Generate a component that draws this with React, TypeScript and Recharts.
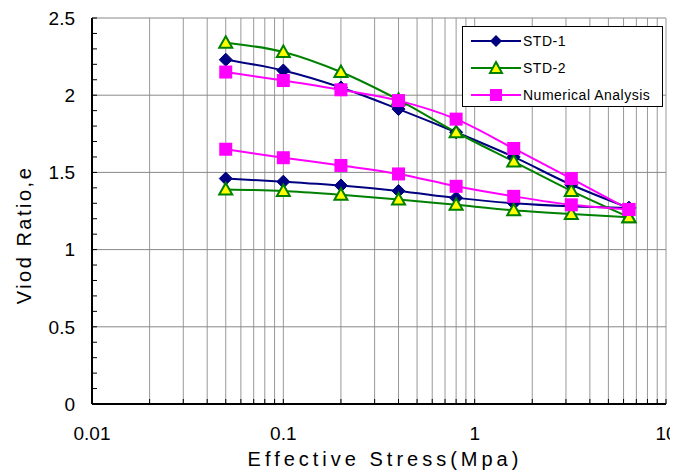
import { CartesianGrid, Legend, Line, LineChart, ReferenceLine, XAxis, YAxis } from "recharts"

const stress = [0.05, 0.1, 0.2, 0.4, 0.8, 1.6, 3.2, 6.4]

const std1Load = [2.23, 2.16, 2.05, 1.91, 1.76, 1.6, 1.42, 1.27]
const std1Unload = [1.46, 1.44, 1.415, 1.38, 1.335, 1.3, 1.28, 1.27]
const std2Load = [2.34, 2.28, 2.15, 1.97, 1.76, 1.57, 1.38, 1.21]
const std2Unload = [1.39, 1.38, 1.355, 1.325, 1.29, 1.255, 1.23, 1.21]
const numLoad = [2.15, 2.095, 2.035, 1.965, 1.845, 1.655, 1.46, 1.26]
const numUnload = [1.65, 1.595, 1.545, 1.49, 1.41, 1.345, 1.29, 1.26]

const xTicks = [
  0.01, 0.02, 0.03, 0.04, 0.05, 0.06, 0.07, 0.08, 0.09,
  0.1, 0.2, 0.3, 0.4, 0.5, 0.6, 0.7, 0.8, 0.9,
  1, 2, 3, 4, 5, 6, 7, 8, 9, 10,
]
const xLabels: Record<string, string> = { "0.01": "0.01", "0.1": "0.1", "1": "1", "10": "10" }
const yTicks = [
  0, 0.1, 0.2, 0.3, 0.4, 0.5, 0.6, 0.7, 0.8, 0.9, 1, 1.1, 1.2, 1.3, 1.4, 1.5,
  1.6, 1.7, 1.8, 1.9, 2, 2.1, 2.2, 2.3, 2.4, 2.5,
]
const yLabels: Record<string, string> = { "0": "0", "0.5": "0.5", "1": "1", "1.5": "1.5", "2": "2", "2.5": "2.5" }
const yGrid = [0.5, 1, 1.5, 2, 2.5]

const toPoints = (ys: number[]) => stress.map((x, i) => ({ x, y: ys[i] }))

const NAVY = "#000080"
const GREEN = "#008000"
const MAGENTA = "#FF00FF"
const YELLOW = "#FFFF00"
const FONT = "'Liberation Sans', Arial, sans-serif"

const Diamond = (p: any) => {
  const { cx, cy } = p
  if (cx == null || cy == null) return null
  const r = 6.5
  return (
    <polygon
      key={p.key}
      points={`${cx},${cy - r} ${cx + r},${cy} ${cx},${cy + r} ${cx - r},${cy}`}
      fill={NAVY}
      stroke={NAVY}
    />
  )
}

const Triangle = (p: any) => {
  const { cx, cy } = p
  if (cx == null || cy == null) return null
  return (
    <polygon
      key={p.key}
      points={`${cx},${cy - 6.5} ${cx + 6.5},${cy + 5} ${cx - 6.5},${cy + 5}`}
      fill={YELLOW}
      stroke={GREEN}
      strokeWidth={2}
    />
  )
}

const Square = (p: any) => {
  const { cx, cy } = p
  if (cx == null || cy == null) return null
  return <rect key={p.key} x={cx - 6.5} y={cy - 6.5} width={13} height={13} fill={MAGENTA} />
}

const XTick = (p: any) => {
  const { x, y, payload } = p
  const label = xLabels[String(payload.value)]
  return (
    <g>
      <line x1={x} x2={x} y1={y - 23} y2={y - 28} stroke="#000" />
      {label && (
        <text x={x} y={y} dy="0.71em" textAnchor="middle" fontSize={19} fontFamily={FONT} fill="#000">
          {label}
        </text>
      )}
    </g>
  )
}

const YTick = (p: any) => {
  const { x, y, payload } = p
  const label = yLabels[String(Math.round(payload.value * 10) / 10)]
  return (
    <g>
      <line x1={x + 17} x2={x + 22} y1={y} y2={y} stroke="#000" />
      {label && (
        <text x={x} y={y} dy="0.355em" textAnchor="end" fontSize={19} fontFamily={FONT} fill="#000">
          {label}
        </text>
      )}
    </g>
  )
}

const legendItems = [
  { name: "STD-1", color: NAVY, marker: "diamond" },
  { name: "STD-2", color: GREEN, marker: "triangle" },
  { name: "Numerical Analysis", color: MAGENTA, marker: "square" },
]

const renderLegend = () => (
  <div
    style={{
      width: 199,
      height: 79,
      border: "1px solid #000",
      background: "#fff",
      fontFamily: FONT,
      fontSize: 14,
      boxSizing: "content-box",
    }}
  >
    {legendItems.map((it) => (
      <div key={it.name} style={{ display: "flex", alignItems: "center", height: 26, marginTop: 1 }}>
        <svg width={60} height={20} style={{ marginLeft: 6 }}>
          <line x1={2} x2={52} y1={10} y2={10} stroke={it.color} strokeWidth={2} />
          {it.marker === "diamond" && <polygon points="27,4 33,10 27,16 21,10" fill={NAVY} />}
          {it.marker === "triangle" && (
            <polygon points="27,4 33,15 21,15" fill={YELLOW} stroke={GREEN} strokeWidth={2} />
          )}
          {it.marker === "square" && <rect x={21} y={4} width={12} height={12} fill={MAGENTA} />}
        </svg>
        <span style={{ marginLeft: -6, letterSpacing: 0.5 }}>{it.name}</span>
      </div>
    ))}
  </div>
)

const YLabel = (p: any) => {
  const vb = p.viewBox
  const cx = vb.x + 16
  const cy = vb.y + vb.height / 2 + 24
  return (
    <text
      x={cx}
      y={cy}
      transform={`rotate(-90 ${cx} ${cy})`}
      textAnchor="middle"
      dominantBaseline="central"
      fontSize={20}
      fontFamily={FONT}
      letterSpacing={2.5}
      fill="#000"
    >
      Viod Ratio,e
    </text>
  )
}

export default function App() {
  return (
    <LineChart width={670} height={467} margin={{ top: 10, right: 12, left: 0, bottom: 0 }}>
      <CartesianGrid horizontal={false} stroke="#999" />
      {yGrid.map((v) => (
        <ReferenceLine key={v} y={v} stroke="#888" />
      ))}
      <XAxis
        type="number"
        dataKey="x"
        scale="log"
        domain={[0.01, 10]}
        ticks={xTicks}
        interval={0}
        tickSize={0}
        tickMargin={23}
        tick={<XTick />}
        axisLine={{ stroke: "#000", strokeWidth: 2 }}
        height={71}
        allowDataOverflow
        label={{
          value: "Effective Stress(Mpa)",
          position: "insideBottom",
          offset: 9,
          dx: 6,
          style: { fontSize: 20, fontFamily: FONT, letterSpacing: 4, fill: "#000" },
        }}
      />
      <YAxis
        type="number"
        domain={[0, 2.5]}
        ticks={yTicks}
        interval={0}
        tickSize={0}
        tickMargin={17}
        tick={<YTick />}
        axisLine={{ stroke: "#000", strokeWidth: 2 }}
        width={84}
        label={<YLabel />}
      />
      <Legend
        layout="horizontal"
        verticalAlign="middle"
        align="center"
        content={renderLegend}
        wrapperStyle={{ position: "absolute", left: 454, top: 18, width: 201, height: 81 }}
      />
      <Line data={toPoints(std1Load)} dataKey="y" type="monotone" stroke={NAVY} strokeWidth={2} dot={Diamond} isAnimationActive={false} legendType="none" />
      <Line data={toPoints(std1Unload)} dataKey="y" type="monotone" stroke={NAVY} strokeWidth={2} dot={Diamond} isAnimationActive={false} legendType="none" />
      <Line data={toPoints(std2Load)} dataKey="y" type="monotone" stroke={GREEN} strokeWidth={2} dot={Triangle} isAnimationActive={false} legendType="none" />
      <Line data={toPoints(std2Unload)} dataKey="y" type="monotone" stroke={GREEN} strokeWidth={2} dot={Triangle} isAnimationActive={false} legendType="none" />
      <Line data={toPoints(numLoad)} dataKey="y" type="monotone" stroke={MAGENTA} strokeWidth={2} dot={Square} isAnimationActive={false} legendType="none" />
      <Line data={toPoints(numUnload)} dataKey="y" type="monotone" stroke={MAGENTA} strokeWidth={2} dot={Square} isAnimationActive={false} legendType="none" />
    </LineChart>
  )
}
